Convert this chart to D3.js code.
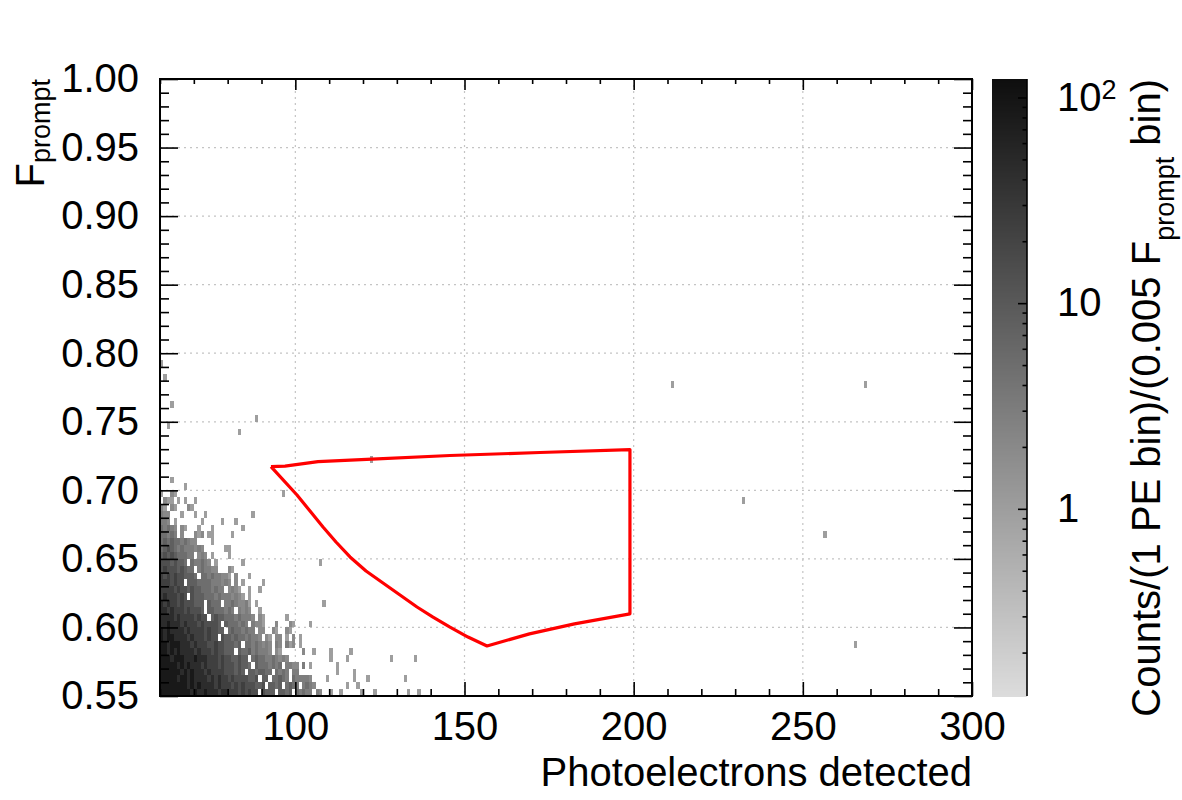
<!DOCTYPE html>
<html>
<head>
<meta charset="utf-8">
<script src="https://cdn.jsdelivr.net/npm/d3@7"></script>
<style>
  body { margin: 0; background: #fff; }
  svg { font-family: "Liberation Sans", Arial, Helvetica, sans-serif; }
</style>
</head>
<body>
<div id="chart"></div>
<script>
// Histogram rows, bottom (Fprompt 0.550) upwards; one char per 1 PE bin starting at 60 PE.
// '.' = empty, digit = count level (see levelCounts)
var denseRows = [
  "99999999989889888788777676766.6555.5545.43433.32",
  "9999999989898888787776767666556.5545.4543.3432",
  "99999899898888787877676666556.55.44543.433332",
  "9999998989888787777666565.5545544.4343.33",
  "999998989888787776766656554.54443434.3322.3.1",
  "99989998889888777676655655.45443343232",
  "9989898888787776766555.5445343332.21",
  "998999888787776676655545.44343232.32.312.1",
  "98998888787776766.655454434332.21.22.1.2.1",
  "9898888787777676655.45443433.22..21..21",
  "889888787776766665.5444343.3221...2...21....1",
  "88887877776766.5655444343332.21......1",
  "8878777676665.55444343.3232..1",
  "8787767666555.5444.33432231.1",
  "78777676.6555444343332321.1",
  "7777676656554443433.2321..1..1",
  "7776766.5554444333232.2.1.....1",
  "76767665554.443433221.2...1",
  "6766656544.343322...21",
  "66656554.433432.1.......1",
  "5656544433.232.1....1",
  "4565434333232......11",
  "45454434322....1",
  "44343.2...212.11.....1",
  "43432.21...1...1........1",
  "332.1.......1.....1...1",
  "322...1...1..1.............1",
  "21.21...21",
  ".211.1.1..1",
  "1..21",
  ".......1",
  "...1"
];
var levelCounts = [0, 1, 2, 3, 5, 8, 14, 24, 45, 85];

// isolated bins (lower bin edges) and their counts
var isoX = [110, 113, 119, 123, 133, 136, 115, 118, 109, 117, 121, 132, 112, 117, 112,
            110, 115, 128, 135, 102, 105, 110, 116, 108, 107, 96, 122, 83, 62, 88, 63, 61, 60,
            211, 268, 232, 256, 265];
var isoY = [0.550, 0.550, 0.550, 0.550, 0.550, 0.550, 0.555, 0.555, 0.560, 0.560, 0.560, 0.560, 0.565, 0.565, 0.570,
            0.575, 0.575, 0.575, 0.575, 0.580, 0.580, 0.580, 0.580, 0.615, 0.645, 0.695, 0.720, 0.740, 0.745, 0.750, 0.760, 0.780, 0.790,
            0.775, 0.775, 0.690, 0.665, 0.585];
var isoN = [1, 1, 1, 1, 1, 1, 1, 1, 1, 1, 1, 1, 1, 1, 1,
            1, 1, 1, 1, 2, 1, 1, 1, 1, 1, 1, 1, 1, 1, 1, 1, 1, 1,
            1, 1, 1, 1, 1];

// selection cut polygon
var cutX = [92.8, 96.95, 106.7, 122.66, 145.71, 172.31, 198.9,
            198.9, 182.5, 169.2, 156.65,
            151.03, 145.71, 140.69, 135.96, 130.94, 125.91, 120.89, 116.16, 112.02, 108.18, 104.34, 100.49, 92.8];
var cutY = [0.7173, 0.7177, 0.7209, 0.7228, 0.7254, 0.7276, 0.7297,
            0.6099, 0.6026, 0.5953, 0.5865,
            0.5930, 0.6003, 0.6076, 0.6149, 0.6237, 0.6324, 0.6412, 0.6514, 0.6623, 0.6733, 0.6849, 0.6966, 0.7173];

var xTicks = [100, 150, 200, 250, 300];
var yTicks = [0.55, 0.60, 0.65, 0.70, 0.75, 0.80, 0.85, 0.90, 0.95, 1.00];
var zTicks = [1, 10, 100];

var W = 1182, H = 800;
var padL = 160, padR = 972, padT = 79, padB = 696;
var barL = 992, barR = 1027;
var fontPx = 40;

var svg = d3.select("#chart").append("svg").attr("width", W).attr("height", H);

var x = d3.scaleLinear().domain([60, 300]).range([padL, padR]);
var y = d3.scaleLinear().domain([0.55, 1.0]).range([padB, padT]);
var z = d3.scaleLog().domain([0.123, 123]).range([padB, padT]);
var gray = d3.scaleLinear().domain([padB, padT]).range(["#dcdcdc", "#0e0e0e"]);
function colorOf(n) { return gray(z(Math.min(n, 123))); }

// grid
var grid = svg.append("g").attr("stroke", "#c4c4c4").attr("stroke-width", 1.2).attr("stroke-dasharray", "2,4");
grid.selectAll("line.gx").data(xTicks.slice(0, -1)).enter().append("line")
  .attr("x1", d => x(d)).attr("x2", d => x(d)).attr("y1", padT).attr("y2", padB);
grid.selectAll("line.gy").data(yTicks.slice(1, -1)).enter().append("line")
  .attr("x1", padL).attr("x2", padR).attr("y1", d => y(d)).attr("y2", d => y(d));

// histogram cells
var cells = [];
denseRows.forEach(function(row, r) {
  for (var i = 0; i < row.length; i++) {
    var d = +row[i];
    if (row[i] !== "." && d > 0) cells.push({x: 60 + i, y: 0.55 + 0.005 * r, n: levelCounts[d]});
  }
});
isoX.forEach(function(v, i) { cells.push({x: v, y: isoY[i], n: isoN[i]}); });

svg.append("g").attr("shape-rendering", "crispEdges")
  .selectAll("rect").data(cells).enter().append("rect")
  .attr("x", d => x(d.x))
  .attr("y", d => y(d.y + 0.005))
  .attr("width", d => x(d.x + 1) - x(d.x))
  .attr("height", d => y(d.y) - y(d.y + 0.005))
  .attr("fill", d => colorOf(d.n));

// cut region
var line = d3.line().x(d => x(d[0])).y(d => y(d[1]));
svg.append("path")
  .attr("d", line(cutX.map((v, i) => [v, cutY[i]])))
  .attr("fill", "none").attr("stroke", "#ff0000").attr("stroke-width", 3.2)
  .attr("stroke-linejoin", "round");

// axes
function minorRange(a, b, step) { return d3.range(a, b + step / 2, step).map(v => +v.toFixed(3)); }
var xMinor = minorRange(60, 300, 10).filter(v => xTicks.indexOf(v) < 0);
var yMinor = minorRange(0.55, 1.0, 0.01).filter(v => !yTicks.some(t => Math.abs(t - v) < 1e-6));

function styleAxis(g) {
  g.select(".domain").remove();
  g.attr("font-size", fontPx).attr("font-family", null);
  g.selectAll("line").attr("stroke", "#000").attr("stroke-width", 1.6);
  g.selectAll("text").attr("fill", "#000");
}

svg.append("g").attr("transform", "translate(0," + padB + ")")
  .call(d3.axisBottom(x).tickValues(xTicks).tickSize(-14).tickPadding(16).tickFormat(d3.format("d"))).call(styleAxis);
svg.append("g").attr("transform", "translate(0," + padB + ")")
  .call(d3.axisBottom(x).tickValues(xMinor).tickSize(-7).tickFormat("")).call(styleAxis);
svg.append("g").attr("transform", "translate(0," + padT + ")")
  .call(d3.axisTop(x).tickValues(xTicks).tickSize(-11).tickFormat("")).call(styleAxis);
svg.append("g").attr("transform", "translate(0," + padT + ")")
  .call(d3.axisTop(x).tickValues(xMinor).tickSize(-5).tickFormat("")).call(styleAxis);

svg.append("g").attr("transform", "translate(" + padL + ",0)")
  .call(d3.axisLeft(y).tickValues(yTicks).tickSize(-18).tickPadding(21).tickFormat(d3.format(".2f"))).call(styleAxis);
svg.append("g").attr("transform", "translate(" + padL + ",0)")
  .call(d3.axisLeft(y).tickValues(yMinor).tickSize(-9).tickFormat("")).call(styleAxis);
svg.append("g").attr("transform", "translate(" + padR + ",0)")
  .call(d3.axisRight(y).tickValues(yTicks).tickSize(-18).tickFormat("")).call(styleAxis);
svg.append("g").attr("transform", "translate(" + padR + ",0)")
  .call(d3.axisRight(y).tickValues(yMinor).tickSize(-9).tickFormat("")).call(styleAxis);

// frame
svg.append("rect").attr("x", padL).attr("y", padT).attr("width", padR - padL).attr("height", padB - padT)
  .attr("fill", "none").attr("stroke", "#000").attr("stroke-width", 2);

// colour bar
var bands = d3.range(padT, padB, 2);
svg.append("g").attr("shape-rendering", "crispEdges").selectAll("rect").data(bands).enter().append("rect")
  .attr("x", barL).attr("width", barR - barL).attr("y", d => d).attr("height", 2)
  .attr("fill", d => gray(d + 1));
svg.append("line").attr("x1", barR).attr("x2", barR).attr("y1", padT).attr("y2", padB)
  .attr("stroke", "#000").attr("stroke-width", 1.6);

var zMinor = [0.2, 0.3, 0.4, 0.5, 0.6, 0.7, 0.8, 0.9, 2, 3, 4, 5, 6, 7, 8, 9, 20, 30, 40, 50, 60, 70, 80, 90];
var zAxis = svg.append("g").attr("transform", "translate(" + barR + ",0)")
  .call(d3.axisRight(z).tickValues(zTicks).tickSize(-9).tickPadding(30).tickFormat(d => d === 100 ? "10" : String(d)))
  .call(styleAxis);
zAxis.selectAll("text").filter(d => d === 100).append("tspan")
  .attr("dy", "-0.45em").attr("font-size", 27).text("2");
svg.append("g").attr("transform", "translate(" + barR + ",0)")
  .call(d3.axisRight(z).tickValues(zMinor).tickSize(-4.5).tickFormat("")).call(styleAxis);

// titles
svg.append("text").attr("x", padR).attr("y", 786).attr("text-anchor", "end")
  .attr("font-size", fontPx).text("Photoelectrons detected");

var yt = svg.append("text").attr("transform", "translate(44," + padT + ") rotate(-90)")
  .attr("text-anchor", "end").attr("font-size", fontPx);
yt.append("tspan").text("F");
yt.append("tspan").attr("font-size", 27).attr("dy", 6).text("prompt");

var zt = svg.append("text").attr("transform", "translate(1160," + padT + ") rotate(-90)")
  .attr("text-anchor", "end").attr("font-size", fontPx);
zt.append("tspan").text("Counts/(1 PE bin)/(0.005 F");
zt.append("tspan").attr("font-size", 27).attr("dy", 14).text("prompt");
zt.append("tspan").attr("dy", -14).text("\u00a0bin)");
</script>
</body>
</html>
